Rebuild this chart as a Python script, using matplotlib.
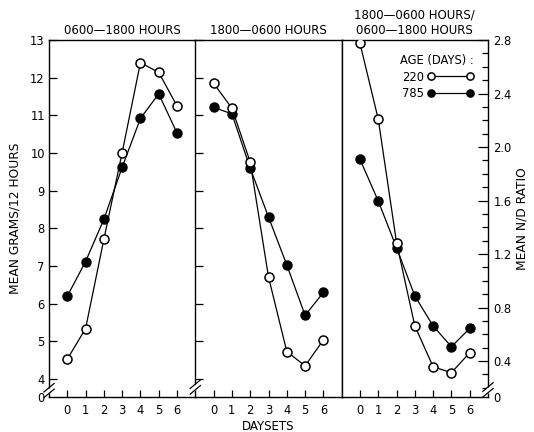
import matplotlib
matplotlib.use("Agg")
import matplotlib.pyplot as plt
import numpy as np

plt.rcParams['font.family'] = ['DejaVu Sans']

daysets = [0, 1, 2, 3, 4, 5, 6]

# mean grams / 12 hours, 0600-1800
day_220 = [4.53, 5.34, 7.71, 10.01, 12.40, 12.14, 11.25]
day_785 = [6.20, 7.12, 8.24, 9.62, 10.92, 11.57, 10.53]

# mean grams / 12 hours, 1800-0600
night_220 = [11.85, 11.19, 9.76, 6.71, 4.73, 4.35, 5.04]
night_785 = [11.21, 11.04, 9.60, 8.30, 7.03, 5.69, 6.30]

# N/D ratio
ratio_220 = [2.775, 2.207, 1.284, 0.662, 0.357, 0.313, 0.462]
ratio_785 = [1.908, 1.596, 1.247, 0.886, 0.662, 0.507, 0.644]

grams_ticks = [4, 5, 6, 7, 8, 9, 10, 11, 12, 13]
ratio_ticks = [0.4, 0.8, 1.2, 1.6, 2.0, 2.4, 2.8]
ratio_minor = [0.2, 0.3, 0.5, 0.6, 0.7, 0.9, 1.0, 1.1, 1.3, 1.4, 1.5,
               1.7, 1.8, 1.9, 2.1, 2.2, 2.3, 2.5, 2.6, 2.7]

titles = ["0600\u20141800 HOURS", "1800\u20140600 HOURS",
          "1800\u20140600 HOURS/\n0600\u20141800 HOURS"]

W, H = 534, 432
fig = plt.figure(figsize=(W / 100, H / 100), dpi=100)

edges = [49, 195.3, 341.7, 488]
bot, top = 397, 40
axes = []
for i in range(3):
    ax = fig.add_axes([edges[i] / W, 1 - bot / H,
                       (edges[i + 1] - edges[i]) / W, (bot - top) / H])
    axes.append(ax)

fs = 8.3
lw = 0.9
ms = 6.5


def draw(ax, y220, y785):
    ax.plot(daysets, y785, color='black', lw=lw, marker='o', ms=ms,
            mfc='black', mec='black', label='785', zorder=3)
    ax.plot(daysets, y220, color='black', lw=lw, marker='o', ms=ms,
            mfc='white', mec='black', mew=1.1, label='220', zorder=4)


def break_mark(ax, x, y):
    d = 0.012
    gap = 0.008
    # white gap in the spine
    ax.plot([x, x], [y - gap, y + gap], transform=ax.transAxes,
            color='white', lw=2.5, clip_on=False, zorder=5,
            solid_capstyle='butt')
    for off in (-gap, gap):
        ax.plot([x - 0.035, x + 0.035], [y + off - d, y + off + d],
                transform=ax.transAxes, color='black', lw=0.9, clip_on=False,
                zorder=6)


draw(axes[0], day_220, day_785)
draw(axes[1], night_220, night_785)
draw(axes[2], ratio_220, ratio_785)

gmin = 3.524
for ax in axes[:2]:
    ax.set_ylim(gmin, 13)
    ax.set_yticks([gmin] + grams_ticks)
rmin = 0.131
axes[2].set_ylim(rmin, 2.8)

for k, ax in enumerate(axes):
    ax.set_xlim(-1, 7)
    ax.set_xticks(daysets)
    ax.tick_params(axis='x', direction='in', length=5, width=0.9,
                   labelsize=fs, pad=5)
    for s in ax.spines.values():
        s.set_linewidth(1.0)
    ax.set_title(titles[k], fontsize=fs + 0.2, pad=4, linespacing=1.25)

# left panel
axes[0].set_yticklabels(['0'] + [str(t) for t in grams_ticks])
axes[0].tick_params(axis='y', direction='in', length=6, width=0.9,
                    labelsize=fs, pad=3)
axes[0].yaxis.get_major_ticks()[0].tick1line.set_visible(False)
axes[0].spines['right'].set_visible(False)
axes[0].set_ylabel("MEAN GRAMS/12 HOURS", fontsize=fs + 0.5, labelpad=6)

# middle panel
axes[1].tick_params(axis='y', direction='in', length=6, width=0.9,
                    labelleft=False)
axes[1].yaxis.get_major_ticks()[0].tick1line.set_visible(False)
axes[1].set_xlabel("DAYSETS", fontsize=fs + 0.2, labelpad=2)

# right panel
ax = axes[2]
ax.yaxis.tick_right()
ax.set_yticks([rmin] + ratio_ticks)
ax.set_yticklabels(['0'] + ["%.1f" % t for t in ratio_ticks])
ax.set_yticks(ratio_minor, minor=True)
ax.tick_params(axis='y', which='major', direction='in', length=7, width=0.9,
               labelsize=fs, pad=4)
ax.tick_params(axis='y', which='minor', direction='in', length=4, width=0.9)
ax.yaxis.get_major_ticks()[0].tick2line.set_visible(False)
ax.yaxis.set_label_position('right')
ax.set_ylabel("MEAN N/D RATIO", fontsize=fs + 0.5, labelpad=3)

leg = ax.legend(handles=ax.get_lines()[::-1], title="AGE (DAYS) :",
                loc='upper right', bbox_to_anchor=(0.95, 0.98),
                frameon=False, markerfirst=False, numpoints=2,
                handlelength=4.0, handletextpad=0.3, labelspacing=0.3,
                fontsize=fs, title_fontsize=fs, borderaxespad=0.2,
                markerscale=0.8)
leg._legend_box.align = 'right'

# axis breaks
break_mark(axes[0], 0.0, 0.018)
break_mark(axes[1], 0.0, 0.028)
break_mark(axes[2], 1.0, 0.02)

fig.savefig("out.png", dpi=100)
